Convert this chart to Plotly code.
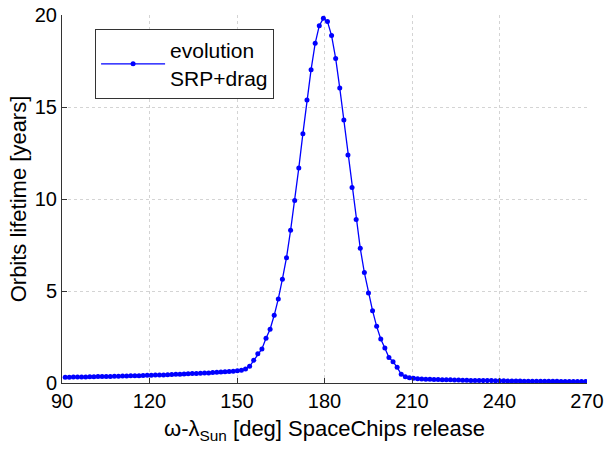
import plotly.graph_objects as go

# Sampling grid of the release angle (deg)
angle_start = 91.1
angle_step = 1.405
n_points = 128
release_angle = [round(angle_start + angle_step * k, 3) for k in range(n_points)]

# Orbit lifetime [years]
lifetime_low = [0.31, 0.31, 0.32, 0.32, 0.33, 0.33, 0.34, 0.34, 0.35, 0.35,
                0.36, 0.36, 0.37, 0.37, 0.38, 0.38, 0.39, 0.40, 0.40, 0.41,
                0.42, 0.42, 0.43, 0.44, 0.44, 0.45, 0.46, 0.47, 0.48, 0.49,
                0.50, 0.51, 0.52, 0.53, 0.54, 0.55, 0.57, 0.58, 0.60, 0.61,
                0.63]
lifetime_peak = [0.64, 0.66, 0.69, 0.76, 0.91, 1.23, 1.59, 1.85, 2.43, 2.92,
                 3.68, 4.57, 5.64, 6.81, 8.30, 9.92, 11.68, 13.55, 15.38, 17.03,
                 18.46, 19.42, 19.82, 19.64, 18.88, 17.64, 16.03, 14.29, 12.39, 10.62,
                 8.89, 7.32, 6.00, 4.89, 3.93, 3.08, 2.39, 1.90, 1.38, 1.16,
                 0.85, 0.47, 0.34, 0.29, 0.26]
lifetime_tail = [0.23, 0.22, 0.21, 0.20, 0.19, 0.19, 0.18, 0.17, 0.17, 0.16,
                 0.16, 0.15, 0.15, 0.14, 0.14, 0.14, 0.13, 0.13, 0.13, 0.12,
                 0.12, 0.12, 0.11, 0.11, 0.11, 0.11, 0.10, 0.10, 0.10, 0.10,
                 0.09, 0.09, 0.09, 0.09, 0.09, 0.08, 0.08, 0.08, 0.08, 0.08,
                 0.08, 0.08]
lifetime = lifetime_low + lifetime_peak + lifetime_tail

x_ticks = [90, 120, 150, 180, 210, 240, 270]
y_ticks = [0, 5, 10, 15, 20]

FONT = "Arial, Liberation Sans, sans-serif"
AXIS_COL = "#333333"
GRID_COL = "#d4d4d4"

fig = go.Figure()
fig.add_trace(go.Scatter(
    x=release_angle, y=lifetime, mode="lines+markers",
    name="evolution<br>SRP+drag",
    line=dict(color="#0000ff", width=1.3),
    marker=dict(color="#0000ff", size=5, symbol="circle"),
))

fig.update_layout(
    width=606, height=451,
    margin=dict(l=62, r=19, t=15, b=68, autoexpand=False),
    paper_bgcolor="white", plot_bgcolor="white",
    font=dict(family=FONT, size=20, color="#000000"),
    showlegend=True,
    legend=dict(
        x=0.063, y=0.962, xanchor="left", yanchor="top",
        bgcolor="white", bordercolor="#333333", borderwidth=1,
        font=dict(family=FONT, size=21, color="#000000"),
        itemwidth=64, tracegroupgap=0,
    ),
    xaxis=dict(
        range=[90, 270], tickvals=x_ticks, ticktext=[str(v) for v in x_ticks],
        showgrid=True, gridcolor=GRID_COL, griddash="dot", gridwidth=1,
        showline=True, linecolor=AXIS_COL, linewidth=1,
        ticks="inside", ticklen=5, tickcolor=AXIS_COL,
        zeroline=False, mirror=False, automargin=False,
        title=dict(text="ω-λ<sub>Sun</sub> [deg] SpaceChips release",
                   font=dict(family=FONT, size=22), standoff=9),
        tickfont=dict(family=FONT, size=20),
    ),
    yaxis=dict(
        range=[0, 20], tickvals=y_ticks, ticktext=[str(v) for v in y_ticks],
        showgrid=True, gridcolor=GRID_COL, griddash="dot", gridwidth=1,
        showline=True, linecolor=AXIS_COL, linewidth=1,
        ticks="inside", ticklen=5, tickcolor=AXIS_COL,
        zeroline=False, mirror=False, automargin=False,
        title=dict(text="Orbits lifetime [years]",
                   font=dict(family=FONT, size=22), standoff=2),
        tickfont=dict(family=FONT, size=20),
    ),
)

fig.write_html("out.html")
